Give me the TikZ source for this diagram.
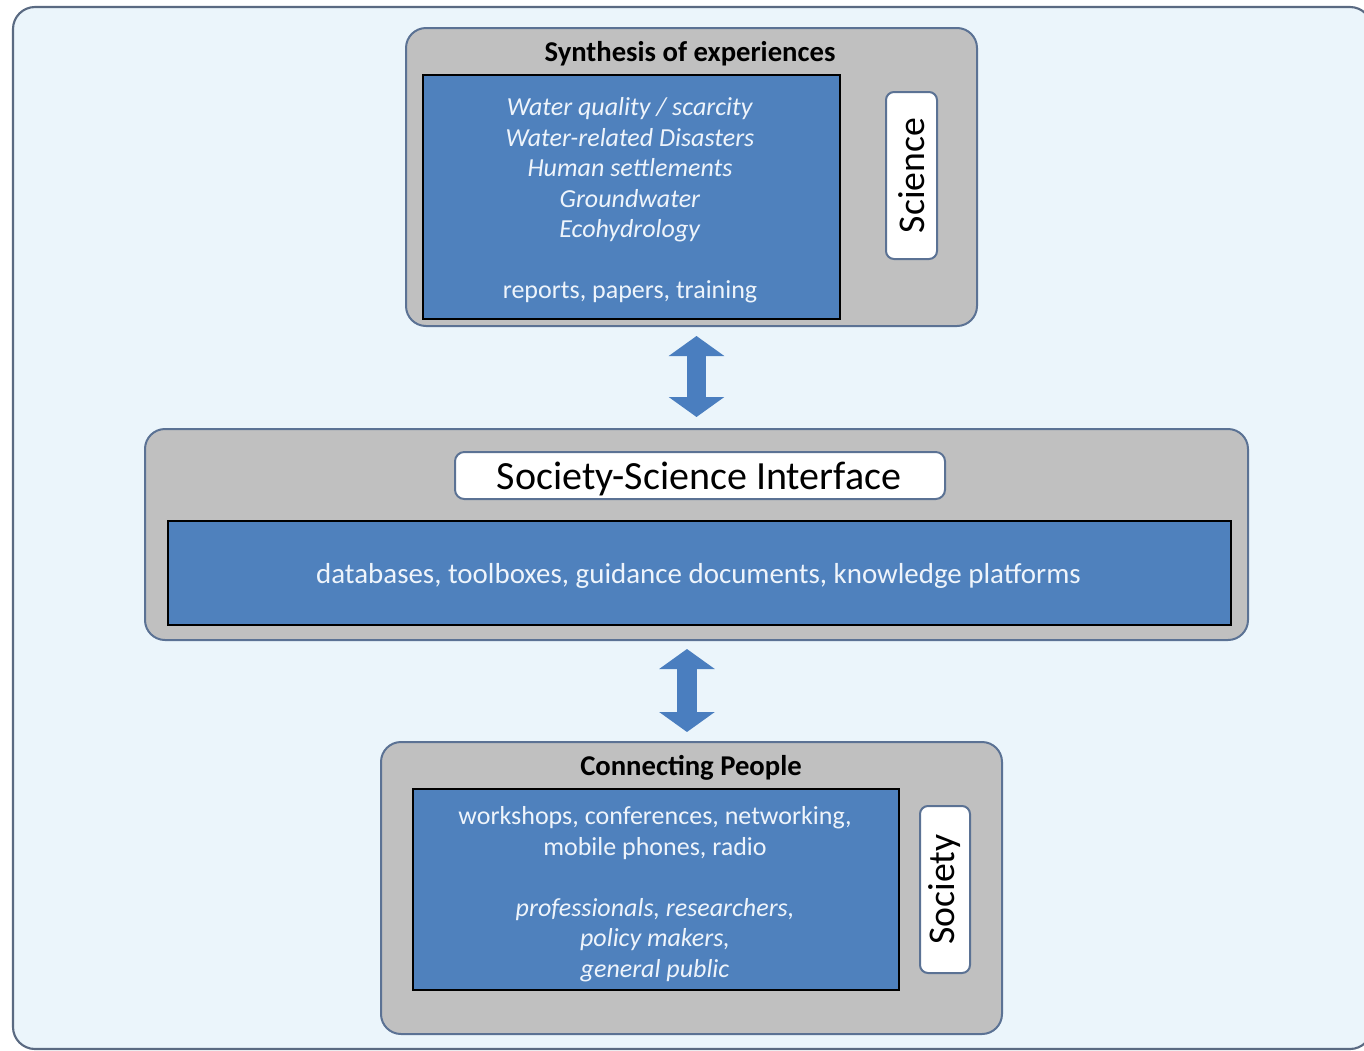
\documentclass[tikz,border=0pt]{standalone}
\usepackage{fontspec}
\setmainfont{Carlito}
\usetikzlibrary{arrows.meta}
\definecolor{pagebg}{HTML}{EBF5FB}
\definecolor{framecol}{HTML}{5A6A82}
\definecolor{panelgray}{HTML}{C0C0C0}
\definecolor{panelline}{HTML}{5B7294}
\definecolor{boxblue}{HTML}{4F81BD}
\definecolor{boxtext}{HTML}{EEF4FB}
\definecolor{arrowblue}{HTML}{4A7EBF}
\begin{document}
\begin{tikzpicture}[x=0.75pt,y=-0.75pt,
  panel/.style={draw=panelline, line width=1.5pt, fill=panelgray, rounded corners=15pt, inner sep=0pt},
  listbox/.style={draw=black, line width=2.2pt, fill=boxblue, inner sep=0pt},
  listtext/.style={text=boxtext, align=center, inner sep=0pt, font=\fontsize{19.5}{22.9}\selectfont},
  tag/.style={draw=panelline, line width=1.5pt, fill=white, rounded corners=6pt, inner sep=0pt},
  sidelabel/.style={rotate=90, font=\fontsize{28.3}{30}\selectfont, inner sep=0pt},
  heading/.style={font=\bfseries\fontsize{21.5}{24}\selectfont, inner sep=0pt},
  link/.style={arrowblue, line width=14.5pt,
    {Triangle[width=41pt,length=15pt]}-{Triangle[width=41pt,length=15pt]}}
]
\useasboundingbox (0,0) rectangle (1364,1050);

% background frame, running off the right and bottom edges
\begin{scope}
  \clip (0,0) rectangle (1364,1050);
  \draw[framecol, line width=1.6pt, fill=pagebg, rounded corners=16.5pt]
    (13,7) rectangle (1372,1049);
\end{scope}

% science panel
\node[panel, minimum width=428.25pt, minimum height=223.5pt] (top) at (691.5,177) {};
\node[heading] (toptitle) at (690,54) {Synthesis of experiences};
\node[listbox, minimum width=312.75pt, minimum height=183pt] (toplist) at (631.5,197) {};
\node[listtext] (toplisttext) at (630,200.5)
  {\textit{Water quality / scarcity}\\
   \textit{Water-related Disasters}\\
   \textit{Human settlements}\\
   \textit{Groundwater}\\
   \textit{Ecohydrology}\\[22.9pt]
   reports, papers, training};
\node[tag, minimum width=38.25pt, minimum height=125.25pt] (sci) at (911.5,175.5) {};
\node[sidelabel] (scitext) at (sci.center) {Science};

% interface panel
\node[panel, minimum width=827.25pt, minimum height=158.25pt] (mid) at (696.5,534.5) {};
\node[tag, rounded corners=7pt, minimum width=367.5pt, minimum height=35.25pt] (ssi) at (700,475.5) {};
\node[font=\fontsize{30}{32}\selectfont, inner sep=0pt] (ssitext) at (699,478.5) {Society-Science Interface};
\node[listbox, minimum width=797.25pt, minimum height=78pt] (midlist) at (699.5,573) {};
\node[listtext, font=\fontsize{21.7}{24}\selectfont] (midlisttext) at (698.5,575.5)
  {databases, toolboxes, guidance documents, knowledge platforms};

% society panel
\node[panel, minimum width=465.75pt, minimum height=219pt] (bot) at (691.5,888) {};
\node[heading] (bottitle) at (691,768) {Connecting People};
\node[listbox, minimum width=364.5pt, minimum height=150.75pt] (botlist) at (656,889.5) {};
\node[listtext] (botlisttext) at (655,894)
  {workshops, conferences, networking,\\
   mobile phones, radio\\[22.9pt]
   \textit{professionals, researchers,}\\
   \textit{policy makers,}\\
   \textit{general public}};
\node[tag, minimum width=37.5pt, minimum height=125.25pt] (soc) at (945,889.5) {};
\node[sidelabel] (soctext) at (soc.center) {Society};

% two-way links between the panels
\draw[link, shorten <=6.75pt, shorten >=8.25pt] (top.south -| mid.north) -- (mid.north);
\draw[link, shorten <=6pt, shorten >=6.75pt]
  ([xshift=-3.4pt]mid.south -| bot.north) -- ([xshift=-3.4pt]bot.north);
\end{tikzpicture}
\end{document}
